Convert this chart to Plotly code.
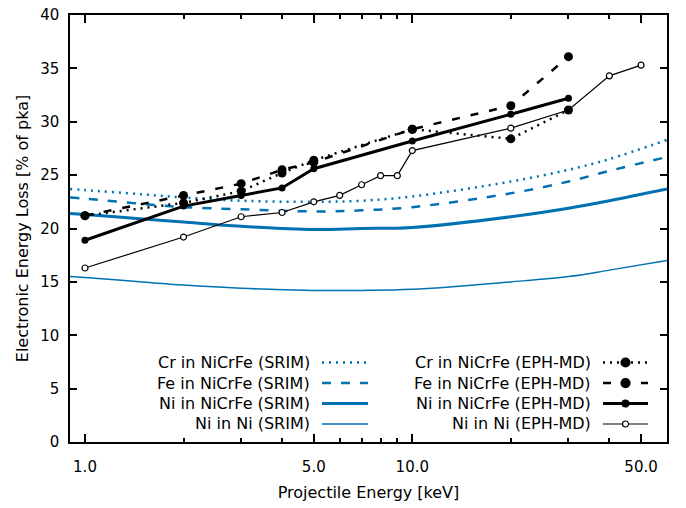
import plotly.graph_objects as go

# ---------------- data ----------------
E_srim = [0.9, 1.0, 1.5, 2.0, 3.0, 5.0, 7.0, 10.0, 20.0, 30.0, 40.0, 60.0]
cr_srim = [23.7, 23.6, 23.2, 22.9, 22.6, 22.5, 22.6, 23.0, 24.4, 25.5, 26.5, 28.3]
fe_srim = [22.9, 22.8, 22.3, 22.0, 21.8, 21.6, 21.7, 22.0, 23.3, 24.4, 25.4, 26.7]
ni_alloy_srim = [21.4, 21.3, 20.9, 20.6, 20.2, 19.9, 20.0, 20.1, 21.1, 21.9, 22.6, 23.7]
ni_ni_srim = [15.5, 15.4, 15.0, 14.7, 14.4, 14.2, 14.2, 14.3, 15.0, 15.5, 16.1, 17.0]

E_md = [1, 2, 3, 4, 5, 10, 20, 30]
cr_md = [21.2, 22.4, 23.5, 25.2, 26.4, 29.3, 28.4, 31.1]
fe_md = [21.2, 23.1, 24.2, 25.5, 26.2, 29.3, 31.5, 36.1]
ni_alloy_md = [18.9, 22.1, 23.1, 23.8, 25.6, 28.2, 30.7, 32.2]

E_ni = [1, 2, 3, 4, 5, 6, 7, 8, 9, 10, 20, 30, 40, 50]
ni_ni_md = [16.3, 19.2, 21.1, 21.5, 22.5, 23.1, 24.1, 24.95, 24.95, 27.3, 29.4, 31.1, 34.3, 35.3]

x_tickvals = [1, 5, 10, 50]
x_ticktext = ["1.0", "5.0", "10.0", "50.0"]
x_minor = [2, 3, 4, 6, 7, 8, 9, 20, 30, 40]
y_tickvals = [0, 5, 10, 15, 20, 25, 30, 35, 40]

BLUE = "#0072B2"
FONT = "DejaVu Sans"
FS = 15      # tick labels
FT = 16      # titles / legend text

fig = go.Figure()

# SRIM curves
fig.add_trace(go.Scatter(x=E_srim, y=cr_srim, mode="lines", line=dict(color=BLUE, width=2.5, dash="2px,5px", shape="spline"), name="Cr in NiCrFe (SRIM)"))
fig.add_trace(go.Scatter(x=E_srim, y=fe_srim, mode="lines", line=dict(color=BLUE, width=2.5, dash="9px,10px", shape="spline"), name="Fe in NiCrFe (SRIM)"))
fig.add_trace(go.Scatter(x=E_srim, y=ni_alloy_srim, mode="lines", line=dict(color=BLUE, width=3, shape="spline"), name="Ni in NiCrFe (SRIM)"))
fig.add_trace(go.Scatter(x=E_srim, y=ni_ni_srim, mode="lines", line=dict(color=BLUE, width=1.5, shape="spline"), name="Ni in Ni (SRIM)"))

# EPH-MD
fig.add_trace(go.Scatter(x=E_ni, y=ni_ni_md, mode="lines+markers", line=dict(color="black", width=1.2), marker=dict(size=6, color="white", symbol="circle", line=dict(color="black", width=1.2)), name="Ni in Ni (EPH-MD)"))
fig.add_trace(go.Scatter(x=E_md, y=cr_md, mode="lines+markers", line=dict(color="black", width=2.5, dash="2px,5px"), marker=dict(size=9, color="black"), name="Cr in NiCrFe (EPH-MD)"))
fig.add_trace(go.Scatter(x=E_md, y=fe_md, mode="lines+markers", line=dict(color="black", width=2.5, dash="8px,11px"), marker=dict(size=9, color="black"), name="Fe in NiCrFe (EPH-MD)"))
fig.add_trace(go.Scatter(x=E_md, y=ni_alloy_md, mode="lines+markers", line=dict(color="black", width=3), marker=dict(size=7, color="black"), name="Ni in NiCrFe (EPH-MD)"))

# ---------------- custom legend (gnuplot style: text left, sample right) ----------------
rows_y = [0.1862, 0.138, 0.0902, 0.0422]
left_labels = ["Cr in NiCrFe (SRIM)", "Fe in NiCrFe (SRIM)", "Ni in NiCrFe (SRIM)", "Ni in Ni (SRIM)"]
right_labels = ["Cr in NiCrFe (EPH-MD)", "Fe in NiCrFe (EPH-MD)", "Ni in NiCrFe (EPH-MD)", "Ni in Ni (EPH-MD)"]
left_styles = [(BLUE, 2.5, "2px,5px"), (BLUE, 2.5, "9px,10px"), (BLUE, 3, "solid"), (BLUE, 1.5, "solid")]
right_styles = [("black", 2.5, "2px,5px"), ("black", 2.5, "8px,11px"), ("black", 3, "solid"), ("black", 1.2, "solid")]
right_marker = [(4.5, "black"), (4.5, "black"), (3.5, "black"), (3, "white")]

shapes = []
annotations = []
for i, yv in enumerate(rows_y):
    annotations.append(dict(x=0.4054, y=yv, xref="paper", yref="paper", text=left_labels[i], showarrow=False, xanchor="right", yanchor="middle", font=dict(family=FONT, size=FT, color="black")))
    annotations.append(dict(x=0.876, y=yv, xref="paper", yref="paper", text=right_labels[i], showarrow=False, xanchor="right", yanchor="middle", font=dict(family=FONT, size=FT, color="black")))
    c, w, d = left_styles[i]
    shapes.append(dict(type="line", xref="paper", yref="paper", x0=0.4221, x1=0.4992, y0=yv, y1=yv, line=dict(color=c, width=w, dash=d)))
    c, w, d = right_styles[i]
    shapes.append(dict(type="line", xref="paper", yref="paper", x0=0.8928, x1=0.9682, y0=yv, y1=yv, line=dict(color=c, width=w, dash=d)))
    r, fc = right_marker[i]
    shapes.append(dict(type="circle", xref="paper", yref="paper", xsizemode="pixel", ysizemode="pixel", xanchor=0.9305, yanchor=yv, x0=-r, x1=r, y0=-r, y1=r, fillcolor=fc, line=dict(color="black", width=1.2)))

fig.update_layout(
    width=686, height=508,
    margin=dict(l=70, r=19, t=15, b=66, autoexpand=False),
    plot_bgcolor="white", paper_bgcolor="white",
    showlegend=False,
    font=dict(family=FONT, size=FS, color="black"),
    shapes=shapes, annotations=annotations,
)

fig.update_xaxes(
    type="log", range=[-0.0458, 1.7782],
    tickvals=x_tickvals, ticktext=x_ticktext, tickfont=dict(family=FONT, size=FS),
    ticks="inside", ticklen=8, tickwidth=1.5, tickcolor="black",
    minor=dict(tickvals=x_minor, ticks="inside", ticklen=4, tickwidth=1.5, tickcolor="black", showgrid=False),
    showline=True, linecolor="black", linewidth=1.5, mirror="allticks",
    showgrid=False, zeroline=False, ticklabelstandoff=10, automargin=False,
    title=dict(text="Projectile Energy [keV]", standoff=12, font=dict(family=FONT, size=FT)),
)
fig.update_yaxes(
    range=[0, 40], tickvals=y_tickvals, tickfont=dict(family=FONT, size=FS),
    ticks="inside", ticklen=7, tickwidth=1.5, tickcolor="black",
    showline=True, linecolor="black", linewidth=1.5, mirror="allticks",
    showgrid=False, zeroline=False, ticklabelstandoff=6, automargin=False,
    title=dict(text="Electronic Energy Loss [% of pka]", standoff=8, font=dict(family=FONT, size=FT)),
)

fig.write_html("out.html")
